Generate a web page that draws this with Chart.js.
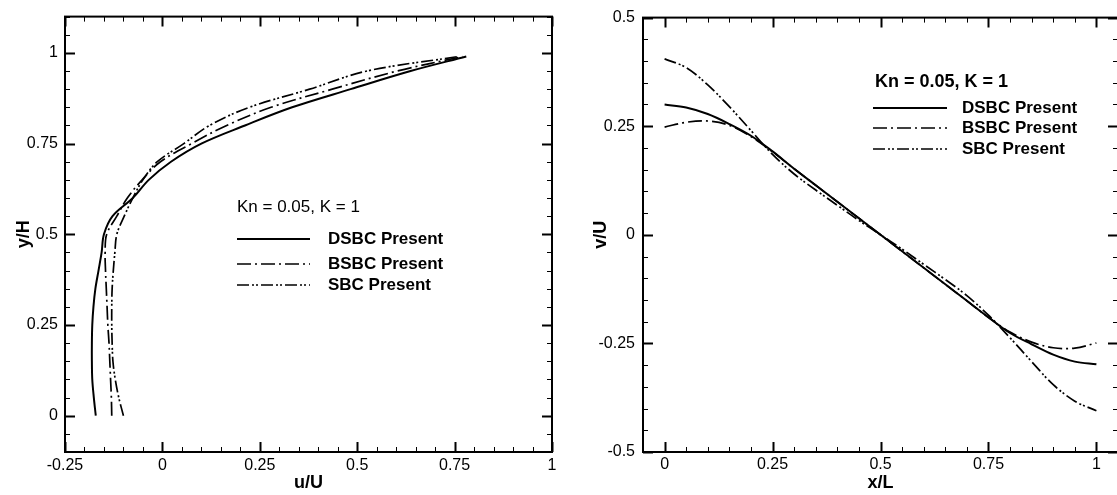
<!DOCTYPE html>
<html>
<head>
<meta charset="utf-8">
<title>Cavity centreline velocity profiles</title>
<script src="https://cdn.jsdelivr.net/npm/chart.js@4.4.1/dist/chart.umd.min.js"></script>
<style>
  html, body { margin: 0; padding: 0; background: #ffffff; overflow: hidden; }
  #wrap { position: relative; width: 1117px; height: 495px; overflow: hidden; background: #ffffff; }
  #uPanel { position: absolute; left: 0; top: 0; }
  #vPanel { position: absolute; left: 590px; top: 0; }
</style>
</head>
<body>
<div id="wrap">
  <canvas id="uPanel" width="590" height="495"></canvas>
  <canvas id="vPanel" width="540" height="495"></canvas>
</div>
<script>
// ---- u/U along the vertical centreline (left panel) ----
const yH = [0, 0.05, 0.1, 0.15, 0.2, 0.25, 0.3, 0.35, 0.4, 0.45, 0.5,
            0.55, 0.6, 0.65, 0.7, 0.75, 0.8, 0.85, 0.9, 0.95, 0.99];
const uDSBC = [-0.171, -0.176, -0.180, -0.181, -0.181, -0.180, -0.177, -0.172, -0.164, -0.156, -0.150,
               -0.128, -0.076, -0.035, 0.022, 0.100, 0.212, 0.333, 0.483, 0.637, 0.780];
const uBSBC = [-0.130, -0.131, -0.133, -0.135, -0.137, -0.140, -0.142, -0.144, -0.146, -0.147, -0.143,
               -0.117, -0.090, -0.052, -0.005, 0.075, 0.165, 0.279, 0.436, 0.603, 0.770];
const uSBC  = [-0.100, -0.112, -0.121, -0.127, -0.129, -0.130, -0.130, -0.129, -0.126, -0.122, -0.117,
               -0.098, -0.076, -0.050, -0.013, 0.055, 0.121, 0.223, 0.378, 0.525, 0.760];

// ---- v/U along the horizontal centreline (right panel) ----
const xL = [0, 0.05, 0.1, 0.15, 0.2, 0.25, 0.3, 0.35, 0.4, 0.45, 0.5,
            0.55, 0.6, 0.65, 0.7, 0.75, 0.8, 0.85, 0.9, 0.95, 1];
const vDSBC = [0.300, 0.293, 0.278, 0.255, 0.228, 0.192, 0.152, 0.114, 0.076, 0.038, 0,
               -0.038, -0.076, -0.114, -0.152, -0.190, -0.226, -0.252, -0.276, -0.292, -0.298];
const vBSBC = [0.248, 0.259, 0.262, 0.252, 0.226, 0.191, 0.152, 0.114, 0.076, 0.038, 0,
               -0.038, -0.076, -0.114, -0.152, -0.190, -0.224, -0.247, -0.260, -0.261, -0.249];
const vSBC  = [0.405, 0.385, 0.345, 0.295, 0.240, 0.185, 0.140, 0.103, 0.068, 0.033, 0,
               -0.033, -0.068, -0.103, -0.140, -0.185, -0.237, -0.292, -0.345, -0.383, -0.405];

// ---- axis ticks and labels ----
const uTicks = [-0.25, 0, 0.25, 0.5, 0.75, 1];
const yHTicks = [0, 0.25, 0.5, 0.75, 1];
const xLTicks = [0, 0.25, 0.5, 0.75, 1];
const vTicks = [-0.5, -0.25, 0, 0.25, 0.5];

const seriesNames = ['DSBC Present', 'BSBC Present', 'SBC Present'];
const caseLabel = 'Kn = 0.05, K = 1';

const FONT = '"Liberation Sans", Arial, Helvetica, sans-serif';
Chart.defaults.font.family = FONT;
Chart.defaults.color = '#000';

const lineStyles = [
  { borderWidth: 2.0, borderDash: [] },
  { borderWidth: 1.7, borderDash: [14, 4, 2, 4] },
  { borderWidth: 1.7, borderDash: [12, 3, 2, 2, 2, 3] }
];

const fmt = v => String(+v.toFixed(2));

// Boxed frame with inward major/minor tick marks on all four sides
const frameTicks = {
  id: 'frameTicks',
  afterDraw(chart, args, o) {
    const { ctx, chartArea: a } = chart;
    const xs = chart.scales.x, ys = chart.scales.y;
    ctx.save();
    ctx.strokeStyle = '#000';
    const minors = (sc, step) => {
      const out = [];
      const i0 = Math.ceil(sc.min / step - 1e-9), i1 = Math.floor(sc.max / step + 1e-9);
      for (let i = i0; i <= i1; i++) out.push(+(i * step).toFixed(6));
      return out;
    };
    const draw = (vals, len, width) => {
      ctx.lineWidth = width;
      ctx.beginPath();
      vals.x.forEach(v => {
        const p = Math.round(xs.getPixelForValue(v)) + 0.5;
        ctx.moveTo(p, a.bottom); ctx.lineTo(p, a.bottom - len);
        ctx.moveTo(p, a.top); ctx.lineTo(p, a.top + len);
      });
      vals.y.forEach(v => {
        const p = Math.round(ys.getPixelForValue(v)) + 0.5;
        ctx.moveTo(a.left, p); ctx.lineTo(a.left + len, p);
        ctx.moveTo(a.right, p); ctx.lineTo(a.right - len, p);
      });
      ctx.stroke();
    };
    draw({ x: minors(xs, o.step), y: minors(ys, o.step) }, 5, 1);
    draw({ x: o.xMajor, y: o.yMajor }, 10, 2);
    ctx.lineWidth = 2;
    ctx.strokeRect(a.left, a.top, a.right - a.left, a.bottom - a.top);
    ctx.restore();
  }
};

// Case label and line-style key
const caseKey = {
  id: 'caseKey',
  afterDraw(chart, args, o) {
    const { ctx } = chart;
    ctx.save();
    ctx.fillStyle = '#000';
    ctx.textBaseline = 'middle';
    ctx.textAlign = 'left';
    ctx.font = o.titleFont;
    ctx.fillText(o.title, o.titleX, o.titleY);
    ctx.font = o.itemFont;
    chart.data.datasets.forEach((ds, i) => {
      const y = o.rows[i];
      ctx.strokeStyle = '#000';
      ctx.lineWidth = ds.borderWidth;
      ctx.setLineDash(ds.borderDash || []);
      ctx.beginPath();
      ctx.moveTo(o.lineX0, y); ctx.lineTo(o.lineX1, y);
      ctx.stroke();
      ctx.setLineDash([]);
      ctx.fillText(ds.label, o.textX, y);
    });
    ctx.restore();
  }
};

function makeSets(xsArr, ysArr, tension) {
  return xsArr.map((xv, k) => ({
    label: seriesNames[k],
    data: xv.map((val, i) => ({ x: val, y: ysArr[k][i] })),
    showLine: true,
    pointRadius: 0,
    borderColor: '#000',
    backgroundColor: '#000',
    borderWidth: lineStyles[k].borderWidth,
    borderDash: lineStyles[k].borderDash,
    tension: tension
  }));
}

function axis(opts) {
  return {
    type: 'linear',
    min: opts.min, max: opts.max,
    grid: { display: false, drawTicks: false },
    border: { display: false },
    afterBuildTicks: sc => { sc.ticks = opts.ticks.map(v => ({ value: v })); },
    afterFit: sc => { if (opts.width !== undefined) sc.width = opts.width; if (opts.height !== undefined) sc.height = opts.height; },
    ticks: { autoSkip: false, maxRotation: 0, padding: opts.pad, font: { size: 16 }, color: '#000', callback: v => fmt(v) },
    title: { display: true, text: opts.title, font: { size: 18, weight: 'bold' }, color: '#000', padding: opts.titlePad }
  };
}

// Left panel: u/U versus y/H
new Chart(document.getElementById('uPanel'), {
  type: 'scatter',
  data: {
    datasets: makeSets(
      [uDSBC, uBSBC, uSBC],
      [yH, yH, yH],
      0.35)
  },
  options: {
    responsive: false,
    animation: false,
    devicePixelRatio: 1,
    layout: { padding: { top: 8, right: 38, bottom: 0, left: 0 } },
    plugins: {
      legend: { display: false },
      tooltip: { enabled: false },
      frameTicks: { step: 0.05, xMajor: uTicks, yMajor: yHTicks },
      caseKey: {
        title: caseLabel, titleFont: '17px ' + FONT, titleX: 237, titleY: 207,
        itemFont: 'bold 17px ' + FONT, lineX0: 237, lineX1: 310, textX: 328,
        rows: [239, 264, 285]
      }
    },
    scales: {
      x: axis({ min: -0.25, max: 1, ticks: uTicks, pad: 4, title: 'u/U', titlePad: { top: 0, bottom: 1 }, height: 43 }),
      y: axis({ min: -0.1, max: 1.1, ticks: yHTicks, pad: 7, title: 'y/H', titlePad: { top: 13, bottom: 0 }, width: 65 })
    }
  },
  plugins: [frameTicks, caseKey]
});

// Right panel: v/U versus x/L
new Chart(document.getElementById('vPanel'), {
  type: 'scatter',
  data: {
    datasets: makeSets(
      [xL, xL, xL],
      [vDSBC, vBSBC, vSBC],
      0.35)
  },
  options: {
    responsive: false,
    animation: false,
    devicePixelRatio: 1,
    layout: { padding: { top: 12, right: 12, bottom: 0, left: 0 } },
    plugins: {
      legend: { display: false },
      tooltip: { enabled: false },
      frameTicks: { step: 0.05, xMajor: xLTicks, yMajor: vTicks },
      caseKey: {
        title: caseLabel, titleFont: 'bold 18px ' + FONT, titleX: 285, titleY: 82,
        itemFont: 'bold 17px ' + FONT, lineX0: 283, lineX1: 357, textX: 372,
        rows: [108, 128, 149]
      }
    },
    scales: {
      x: axis({ min: -0.05, max: 1.05, ticks: xLTicks, pad: 3, title: 'x/L', titlePad: { top: 0, bottom: 1 }, height: 43 }),
      y: axis({ min: -0.5, max: 0.5, ticks: vTicks, pad: 8, title: 'v/U', titlePad: { top: 0, bottom: 0 }, width: 53 })
    }
  },
  plugins: [frameTicks, caseKey]
});
</script>
</body>
</html>
